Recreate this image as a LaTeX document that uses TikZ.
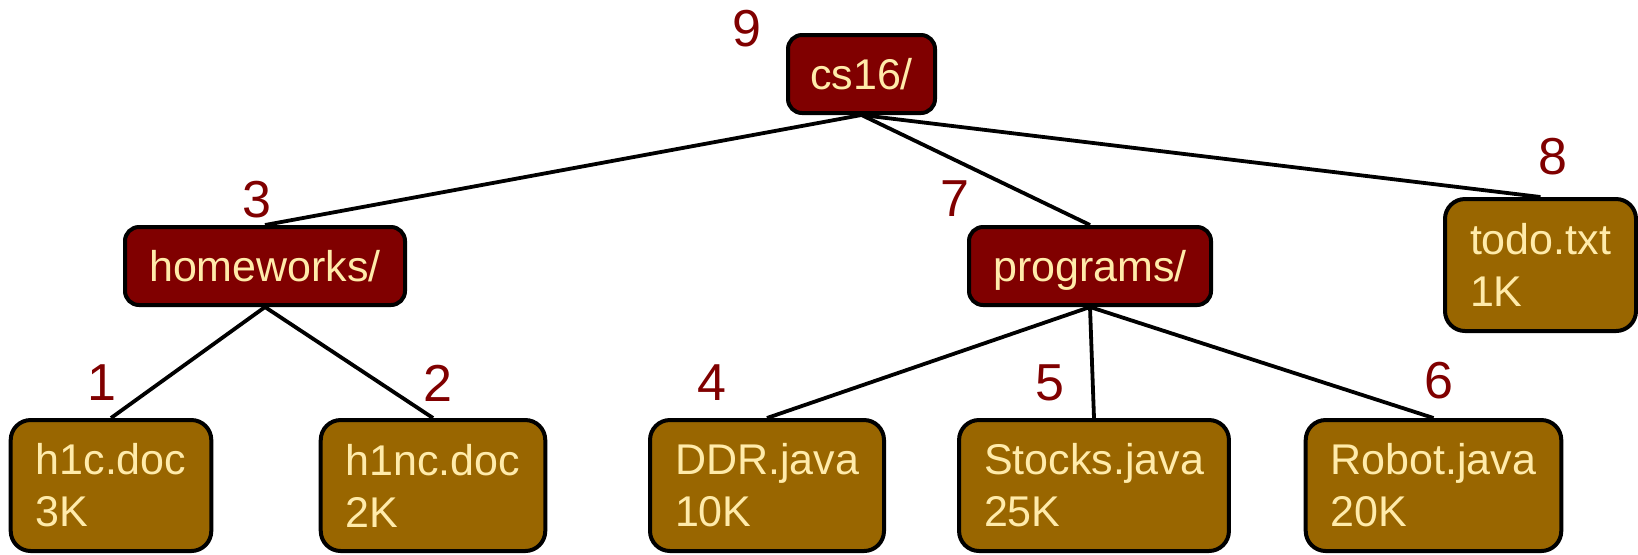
\documentclass[tikz,border=0pt]{standalone}
\usepackage{fontspec}
\setmainfont{Liberation Sans}
\definecolor{dirred}{HTML}{800000}
\definecolor{filegold}{HTML}{996600}
\definecolor{cream}{HTML}{FFEBAA}
\definecolor{numred}{HTML}{800000}
\tikzset{
  dirbox/.style={draw=black, line width=2pt, fill=dirred, rounded corners=7pt,
    text=cream, font=\fontsize{21.5}{26}\selectfont, inner sep=0pt, minimum height=39pt,
    text height=17pt, text depth=2pt},
  filebox/.style={draw=black, line width=2pt, fill=filegold, rounded corners=10pt,
    text=cream, font=\fontsize{21.5}{26}\selectfont, align=left, inner xsep=12.5pt, inner ysep=0pt},
  leafbox/.style={filebox, minimum height=65.5pt},
  numlabel/.style={text=numred, font=\fontsize{26}{26}\selectfont, inner sep=0pt},
  link/.style={draw=black, line width=1.9pt}
}
\begin{document}
\begin{tikzpicture}[x=0.5pt,y=-0.5pt]
\useasboundingbox (0,0) rectangle (1638,554);
% directories
\node[dirbox, minimum width=73.5pt] (cs) at (861.5,74) {cs16/};
\node[dirbox, minimum width=140pt] (hw) at (265,266) {homeworks/};
\node[dirbox, minimum width=121pt] (pr) at (1090,266) {programs/};
% files
\node[filebox, minimum width=93.5pt, minimum height=66pt] (todo) at (1540.5,265) {todo.txt\\1K};
\node[leafbox, minimum width=100pt] (h1c) at (111,485.5) {h1c.doc\\3K};
\node[leafbox, minimum width=109pt] (h1nc) at (433,485.5) {h1nc.doc\\2K};
\node[leafbox, minimum width=116pt] (ddr) at (767,485.5) {DDR.java\\10K};
\node[leafbox, minimum width=134pt] (stk) at (1094,485.5) {Stocks.java\\25K};
\node[leafbox, minimum width=126.5pt] (rob) at (1433.5,485.5) {Robot.java\\20K};
% connectors
\draw[link] (cs.south) -- (hw.north);
\draw[link] (cs.south) -- (pr.north);
\draw[link] (cs.south) -- (todo.north);
\draw[link] (hw.south) -- (h1c.north);
\draw[link] (hw.south) -- (h1nc.north);
\draw[link] (pr.south) -- (ddr.north);
\draw[link] (pr.south) -- (stk.north);
\draw[link] (pr.south) -- (rob.north);
% numbers
\node[numlabel] (n9) at (747,29) {9};
\node[numlabel] (n3) at (257,200) {3};
\node[numlabel] (n7) at (955,199) {7};
\node[numlabel] (n8) at (1553,157) {8};
\node[numlabel] (n1) at (102,383) {1};
\node[numlabel] (n2) at (438,383) {2};
\node[numlabel] (n4) at (712,383) {4};
\node[numlabel] (n5) at (1050,383) {5};
\node[numlabel] (n6) at (1439,381) {6};
\end{tikzpicture}
\end{document}
